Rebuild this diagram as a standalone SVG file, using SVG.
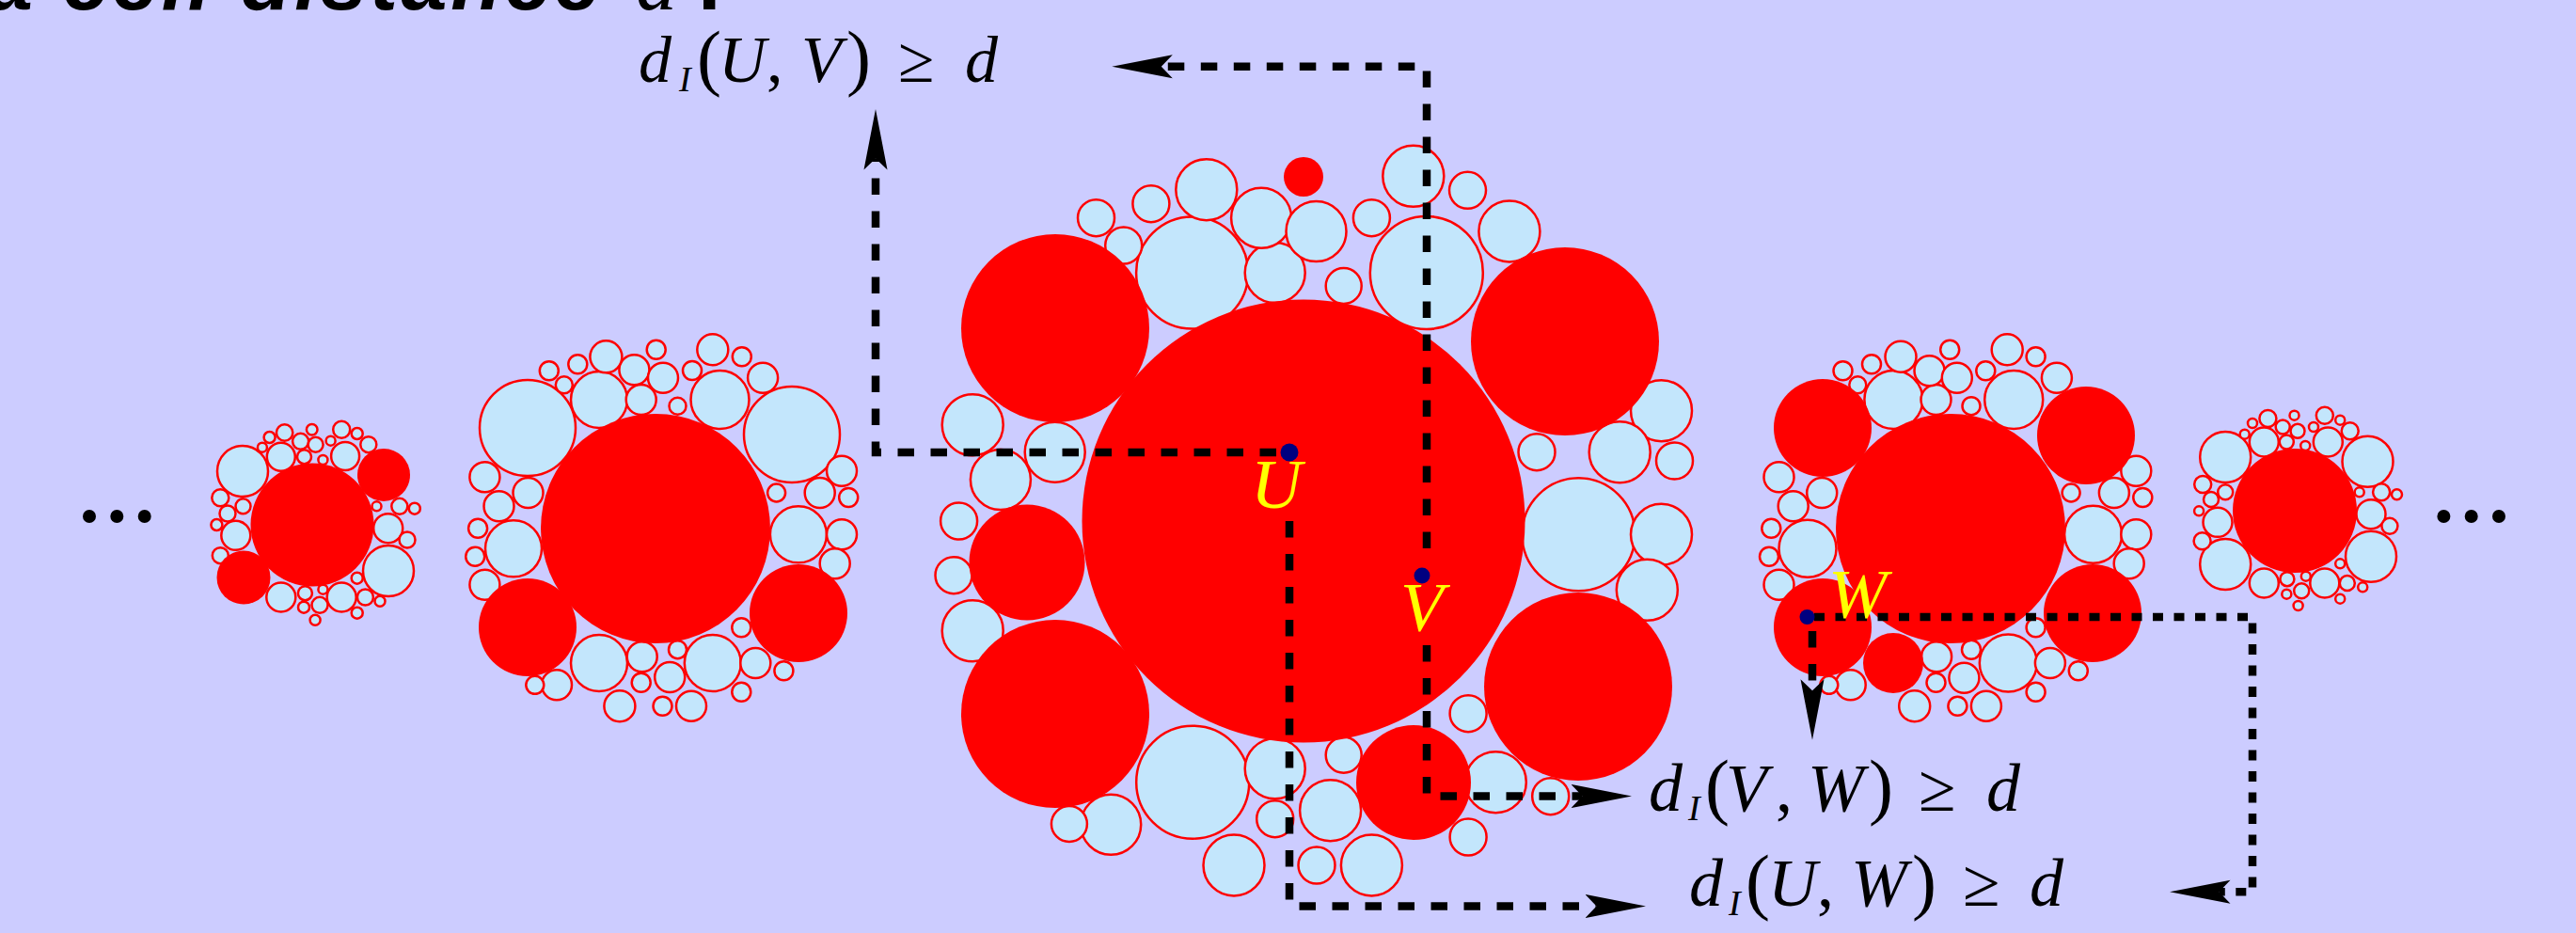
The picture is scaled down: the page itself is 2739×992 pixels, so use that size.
<svg xmlns="http://www.w3.org/2000/svg" width="2739" height="992" viewBox="0 0 2739 992">
<style>
.b{fill:#c3e6fc;stroke:#ff0000;stroke-width:2.5}
.r{fill:#ff0000}
.ln{fill:none;stroke:#000;stroke-width:8.5}
.d1{stroke-dasharray:17.5 17.5}
.d2{stroke-dasharray:11 11.5}
.pt{fill:#000080}
.lab{font-family:"Liberation Serif",serif;font-style:italic;fill:#ffff00;font-size:75px}
.m{font-family:"Liberation Serif",serif;fill:#000}
.it{font-style:italic}
.p{font-size:78px}
.s{font-size:38px;font-style:italic}
</style>
<defs>
<marker id="ah" markerUnits="userSpaceOnUse" markerWidth="66" markerHeight="26" viewBox="0 0 66 26" refX="12" refY="13" orient="auto"><path d="M0,0.5 L64.5,13 L0,25.5 L12,13 Z" fill="#000"/></marker>
</defs>
<rect x="0" y="0" width="2739" height="992" fill="#ccccff"/>
<g id="title">
<text x="-14" y="10" font-family="Liberation Sans,sans-serif" font-weight="bold" font-style="italic" font-size="88" textLength="652" lengthAdjust="spacing">a cell distance</text>
<text x="676" y="10" font-family="Liberation Serif,serif" font-style="italic" font-size="88">d</text>
<text x="742" y="10" font-family="Liberation Sans,sans-serif" font-weight="bold" font-size="88">.</text>
</g>
<g id="dots-left"><circle cx="95" cy="549" r="7"/><circle cx="124.3" cy="549" r="7"/><circle cx="153.7" cy="549" r="7"/></g>
<g id="dots-right"><circle cx="2598.4" cy="549" r="7"/><circle cx="2627.7" cy="549" r="7"/><circle cx="2657" cy="549" r="7"/></g>
<g id="cluster-A">
<circle class="b" cx="258" cy="501" r="27"/><circle class="b" cx="413" cy="607" r="27"/>
<circle class="b" cx="302.6" cy="460" r="8.7"/><circle class="b" cx="286.6" cy="465" r="6"/><circle class="b" cx="319.6" cy="469.3" r="8.5"/><circle class="b" cx="331.7" cy="456.7" r="5.8"/><circle class="b" cx="335.6" cy="472.7" r="8"/><circle class="b" cx="351.6" cy="468.7" r="5"/><circle class="b" cx="363.2" cy="456.7" r="9"/><circle class="b" cx="379.7" cy="461" r="6"/><circle class="b" cx="391.8" cy="472.7" r="8.5"/><circle class="b" cx="367.1" cy="485" r="15"/><circle class="b" cx="298.8" cy="485.7" r="15"/><circle class="b" cx="323.5" cy="485.7" r="7.5"/><circle class="b" cx="343.4" cy="489" r="5"/><circle class="b" cx="278.9" cy="475.7" r="5"/>
<circle class="b" cx="234.3" cy="529.3" r="9"/><circle class="b" cx="258.5" cy="538.3" r="8"/><circle class="b" cx="242" cy="546" r="8.5"/><circle class="b" cx="230.4" cy="558" r="6"/><circle class="b" cx="250.8" cy="569.3" r="15.5"/><circle class="b" cx="234.3" cy="590.7" r="8.5"/>
<circle class="b" cx="400.5" cy="538.3" r="5"/><circle class="b" cx="424.8" cy="538.3" r="8.5"/><circle class="b" cx="440.8" cy="540.7" r="6"/><circle class="b" cx="412.7" cy="561.7" r="15.5"/><circle class="b" cx="433" cy="574" r="8.5"/><circle class="b" cx="379.7" cy="614.7" r="6"/>
<circle class="b" cx="298.8" cy="635" r="15.5"/><circle class="b" cx="324.4" cy="630.7" r="7.5"/><circle class="b" cx="343.4" cy="626.7" r="5"/><circle class="b" cx="363.2" cy="635" r="15.5"/><circle class="b" cx="388.4" cy="635" r="8.5"/><circle class="b" cx="404" cy="639.3" r="5.5"/><circle class="b" cx="323" cy="645.7" r="6"/><circle class="b" cx="340" cy="643.3" r="8.5"/><circle class="b" cx="379.7" cy="651.7" r="6"/><circle class="b" cx="335.1" cy="659.3" r="5.5"/>
<circle class="r" cx="408" cy="505" r="28"/><circle class="r" cx="259" cy="614" r="28.5"/><circle class="r" cx="332" cy="558" r="65.5"/>
</g>
<g id="cluster-B">
<circle class="b" cx="561" cy="455" r="51"/><circle class="b" cx="842" cy="462" r="51"/><circle class="b" cx="637" cy="425" r="30"/><circle class="b" cx="765.5" cy="425" r="31"/><circle class="b" cx="681.7" cy="425" r="16"/><circle class="b" cx="674.4" cy="393.3" r="16"/><circle class="b" cx="705" cy="401.7" r="16"/><circle class="b" cx="644.4" cy="379.3" r="17"/><circle class="b" cx="614.3" cy="387.3" r="10"/><circle class="b" cx="583.8" cy="394.3" r="10"/><circle class="b" cx="599.8" cy="409.3" r="9"/><circle class="b" cx="697.7" cy="371.7" r="10"/><circle class="b" cx="757.8" cy="371.7" r="16.5"/><circle class="b" cx="788.8" cy="379.3" r="10"/><circle class="b" cx="811.1" cy="401.7" r="16"/><circle class="b" cx="736" cy="394" r="10"/><circle class="b" cx="720.5" cy="431.7" r="9"/>
<circle class="b" cx="515.4" cy="507.3" r="16"/><circle class="b" cx="561.5" cy="524" r="16"/><circle class="b" cx="530.5" cy="538.3" r="16"/><circle class="b" cx="508.1" cy="561.7" r="10"/><circle class="b" cx="546" cy="583.3" r="30"/><circle class="b" cx="505.2" cy="591.7" r="10"/><circle class="b" cx="515.4" cy="621.7" r="16"/>
<circle class="b" cx="895" cy="500.7" r="16"/><circle class="b" cx="825.6" cy="524" r="9.5"/><circle class="b" cx="871.7" cy="524" r="16"/><circle class="b" cx="902.2" cy="529" r="10"/><circle class="b" cx="848.9" cy="568.3" r="30"/><circle class="b" cx="895" cy="568.3" r="16"/><circle class="b" cx="887.7" cy="599.3" r="16"/>
<circle class="b" cx="637" cy="705" r="30"/><circle class="b" cx="682.7" cy="698.3" r="16"/><circle class="b" cx="720.5" cy="690.7" r="9.5"/><circle class="b" cx="757.8" cy="705" r="30"/><circle class="b" cx="803.3" cy="705" r="16"/><circle class="b" cx="788.3" cy="667.3" r="10"/><circle class="b" cx="833.4" cy="713.3" r="10"/><circle class="b" cx="592" cy="728.3" r="16"/><circle class="b" cx="568.8" cy="728.3" r="9.5"/><circle class="b" cx="681.7" cy="725.7" r="10"/><circle class="b" cx="712.2" cy="720" r="16"/><circle class="b" cx="788.3" cy="735.7" r="10"/><circle class="b" cx="658.9" cy="750.7" r="16.5"/><circle class="b" cx="704.5" cy="750.7" r="10"/><circle class="b" cx="735" cy="750.7" r="16"/>
<circle class="r" cx="561" cy="667" r="52"/><circle class="r" cx="849" cy="652" r="52"/><circle class="r" cx="697" cy="562" r="122"/>
</g>
<g id="cluster-C">
<circle class="b" cx="1267.6" cy="290" r="59.5"/><circle class="b" cx="1355.7" cy="290" r="32"/><circle class="b" cx="1341.1" cy="231.7" r="32"/><circle class="b" cx="1282.8" cy="201.7" r="32.5"/><circle class="b" cx="1399.5" cy="246" r="32"/><circle class="b" cx="1223.9" cy="216.7" r="19.5"/><circle class="b" cx="1165.5" cy="231.7" r="19.5"/><circle class="b" cx="1194.7" cy="261" r="19.5"/><circle class="b" cx="1458.4" cy="231.7" r="19.5"/><circle class="b" cx="1428.7" cy="304" r="19"/><circle class="b" cx="1502.8" cy="187.3" r="32.5"/><circle class="b" cx="1560.5" cy="202.3" r="19.5"/><circle class="b" cx="1516.8" cy="290" r="60"/><circle class="b" cx="1604.9" cy="246" r="32.5"/>
<circle class="b" cx="1034.2" cy="451.7" r="32.5"/><circle class="b" cx="1121.7" cy="480.7" r="32"/><circle class="b" cx="1063.9" cy="510" r="32"/><circle class="b" cx="1019.6" cy="554" r="19.5"/><circle class="b" cx="1014" cy="611.7" r="19.5"/><circle class="b" cx="1034.2" cy="670.7" r="32.5"/>
<circle class="b" cx="1766.5" cy="436.7" r="32.5"/><circle class="b" cx="1722.2" cy="480.7" r="32.5"/><circle class="b" cx="1634" cy="480.7" r="19.5"/><circle class="b" cx="1780.5" cy="490" r="19.5"/><circle class="b" cx="1678.4" cy="568.3" r="60"/><circle class="b" cx="1766.5" cy="568.3" r="32.5"/><circle class="b" cx="1751.3" cy="627.3" r="32.5"/>
<circle class="b" cx="1268.2" cy="831.7" r="60"/><circle class="b" cx="1355.7" cy="817.3" r="32"/><circle class="b" cx="1428.7" cy="802.7" r="19"/><circle class="b" cx="1414.6" cy="861.7" r="32.5"/><circle class="b" cx="1355.7" cy="870.7" r="19.5"/><circle class="b" cx="1312" cy="920" r="32.5"/><circle class="b" cx="1400" cy="920" r="19.5"/><circle class="b" cx="1458.4" cy="920" r="32.5"/><circle class="b" cx="1181.2" cy="876.7" r="32"/><circle class="b" cx="1136.9" cy="876" r="19"/><circle class="b" cx="1561.1" cy="758.7" r="19.5"/><circle class="b" cx="1590.3" cy="831.7" r="32.5"/><circle class="b" cx="1648.7" cy="846.7" r="19.5"/><circle class="b" cx="1561.1" cy="890" r="19.5"/>
<circle class="r" cx="1122" cy="349" r="100"/><circle class="r" cx="1664" cy="363" r="100"/><circle class="r" cx="1122" cy="759" r="100"/><circle class="r" cx="1678" cy="730" r="100"/><circle class="r" cx="1503" cy="832" r="61"/><circle class="r" cx="1092" cy="598" r="61.5"/><circle class="r" cx="1386" cy="188" r="21"/><circle class="r" cx="1386" cy="554" r="235.5"/>
</g>
<g id="cluster-D">
<circle class="b" cx="2013.4" cy="425" r="31"/><circle class="b" cx="2141.2" cy="425" r="31"/><circle class="b" cx="2058.5" cy="425" r="16"/><circle class="b" cx="2051.5" cy="394.3" r="16"/><circle class="b" cx="2080.8" cy="401.7" r="16"/><circle class="b" cx="2021" cy="379.3" r="16.5"/><circle class="b" cx="1990" cy="387.3" r="10"/><circle class="b" cx="1959.5" cy="394.3" r="10"/><circle class="b" cx="1975.3" cy="409.3" r="9"/><circle class="b" cx="2073.2" cy="371.7" r="10"/><circle class="b" cx="2134.2" cy="371.7" r="16.5"/><circle class="b" cx="2164.6" cy="379.3" r="10"/><circle class="b" cx="2186.9" cy="401.7" r="16"/><circle class="b" cx="2111.3" cy="394.3" r="10"/><circle class="b" cx="2096" cy="431.7" r="9.5"/>
<circle class="b" cx="1891.5" cy="507.3" r="16"/><circle class="b" cx="1937.2" cy="524" r="16"/><circle class="b" cx="1906.7" cy="538.3" r="16"/><circle class="b" cx="1883.3" cy="561.7" r="10"/><circle class="b" cx="1922" cy="583.3" r="30.5"/><circle class="b" cx="1881" cy="591.7" r="10"/><circle class="b" cx="1891.5" cy="621.7" r="16"/>
<circle class="b" cx="2271.3" cy="500.7" r="16"/><circle class="b" cx="2202.1" cy="524" r="9.5"/><circle class="b" cx="2247.9" cy="524" r="16"/><circle class="b" cx="2278.3" cy="529" r="10"/><circle class="b" cx="2225.6" cy="568.3" r="30.5"/><circle class="b" cx="2271.3" cy="568.3" r="16"/><circle class="b" cx="2263.7" cy="599.3" r="16"/>
<circle class="b" cx="2135.3" cy="705" r="30.5"/><circle class="b" cx="2059.1" cy="698.3" r="16"/><circle class="b" cx="2096" cy="690.7" r="10"/><circle class="b" cx="2088.4" cy="720.7" r="16"/><circle class="b" cx="2058.5" cy="725.7" r="10"/><circle class="b" cx="2179.9" cy="705" r="16"/><circle class="b" cx="2164.6" cy="667.3" r="10"/><circle class="b" cx="2209.8" cy="713.3" r="10"/><circle class="b" cx="1967.7" cy="728.3" r="16"/><circle class="b" cx="1944.8" cy="728.3" r="9.5"/><circle class="b" cx="2164.6" cy="735.7" r="10"/><circle class="b" cx="2035.7" cy="750.7" r="16.5"/><circle class="b" cx="2081.4" cy="750.7" r="10"/><circle class="b" cx="2111.9" cy="750.7" r="16"/>
<circle class="r" cx="1938" cy="455" r="52"/><circle class="r" cx="2218" cy="463" r="52"/><circle class="r" cx="2225" cy="652" r="52"/><circle class="r" cx="1938" cy="667" r="52"/><circle class="r" cx="2013" cy="705" r="32"/><circle class="r" cx="2074" cy="562" r="122"/>
</g>
<g id="cluster-E">
<circle class="b" cx="2366.2" cy="486" r="27"/><circle class="b" cx="2517.5" cy="490.7" r="27"/><circle class="b" cx="2366.2" cy="600" r="27"/><circle class="b" cx="2521" cy="591.7" r="27"/><circle class="b" cx="2407.3" cy="470" r="15.5"/><circle class="b" cx="2475.3" cy="470" r="15.5"/><circle class="b" cx="2407.3" cy="620" r="15.5"/><circle class="b" cx="2471.8" cy="620" r="15.5"/><circle class="b" cx="2521" cy="546.7" r="15.5"/><circle class="b" cx="2358" cy="555.3" r="15.5"/>
<circle class="b" cx="2411.4" cy="445" r="9"/><circle class="b" cx="2427.2" cy="454" r="7.5"/><circle class="b" cx="2443" cy="458.3" r="7.5"/><circle class="b" cx="2431.3" cy="470" r="7.5"/><circle class="b" cx="2471.8" cy="441.7" r="9"/><circle class="b" cx="2498.7" cy="458.3" r="9"/><circle class="b" cx="2439.5" cy="441.7" r="5"/><circle class="b" cx="2460" cy="454" r="5"/><circle class="b" cx="2488.2" cy="446.7" r="5"/><circle class="b" cx="2395" cy="450" r="5"/><circle class="b" cx="2386.7" cy="461.7" r="5"/><circle class="b" cx="2451.2" cy="474" r="5"/>
<circle class="b" cx="2342.2" cy="515" r="9"/><circle class="b" cx="2366.2" cy="523.3" r="8"/><circle class="b" cx="2351" cy="531" r="8"/><circle class="b" cx="2338.1" cy="543.3" r="5"/><circle class="b" cx="2341.6" cy="575.3" r="9"/><circle class="b" cx="2508.7" cy="523.3" r="5"/><circle class="b" cx="2532.1" cy="523.3" r="9"/><circle class="b" cx="2548.5" cy="525.7" r="5.5"/><circle class="b" cx="2540.9" cy="559.3" r="8.5"/>
<circle class="b" cx="2488.2" cy="599.3" r="5"/><circle class="b" cx="2431.9" cy="615.7" r="7.5"/><circle class="b" cx="2447.2" cy="628.3" r="8"/><circle class="b" cx="2431.3" cy="631.7" r="5"/><circle class="b" cx="2451.8" cy="612.7" r="5"/><circle class="b" cx="2495.8" cy="620" r="8"/><circle class="b" cx="2512.2" cy="624.3" r="5"/><circle class="b" cx="2488.2" cy="636.7" r="5"/><circle class="b" cx="2443.6" cy="644" r="5"/>
<circle class="r" cx="2440" cy="543" r="66"/>
</g>
<g id="connectors">
<path class="ln d1" d="M1357,481 H931 V168.5" marker-end="url(#ah)"/>
<path class="ln d1" d="M1517,583 V70.7 H1234.8" marker-end="url(#ah)"/>
<path class="ln d1" d="M1517,686 V846.5 H1682.5" marker-end="url(#ah)"/>
<path class="ln d1" d="M1371,554 V963.5 H1697.5" marker-end="url(#ah)"/>
<path class="ln d2" d="M1929,656 H2395 V948.3 H2359.5" marker-end="url(#ah)"/>
<path class="ln d1" d="M1927,671 V734.2" marker-end="url(#ah)"/>
</g>
<g id="point-U"><circle class="pt" cx="1371" cy="481" r="9.5"/><text class="lab" x="1330" y="540">U</text></g>
<g id="point-V"><circle class="pt" cx="1512" cy="612" r="8.5"/><text class="lab" x="1489" y="671">V</text></g>
<g id="point-W"><circle class="pt" cx="1921.5" cy="656" r="8"/><text class="lab" x="1944" y="657">W</text></g>
<g id="label-UV">
<text class="m" y="87" font-size="70"><tspan class="it" x="679">d</tspan><tspan class="s" x="722" dy="10">I</tspan><tspan class="p" x="741" dy="-10">(</tspan><tspan class="it" x="764">U</tspan><tspan x="815">,</tspan><tspan class="it" x="852">V</tspan><tspan class="p" x="900">)</tspan><tspan x="955">≥</tspan><tspan class="it" x="1026">d</tspan></text>
</g>
<g id="label-VW">
<text class="m" y="862" font-size="72"><tspan class="it" x="1753">d</tspan><tspan class="s" x="1795" dy="10">I</tspan><tspan class="p" x="1813" dy="-10">(</tspan><tspan class="it" x="1835">V</tspan><tspan x="1888">,</tspan><tspan class="it" x="1922">W</tspan><tspan class="p" x="1987">)</tspan><tspan x="2040">≥</tspan><tspan class="it" x="2112">d</tspan></text>
</g>
<g id="label-UW">
<text class="m" y="963" font-size="72"><tspan class="it" x="1796">d</tspan><tspan class="s" x="1838" dy="10">I</tspan><tspan class="p" x="1856" dy="-10">(</tspan><tspan class="it" x="1880">U</tspan><tspan x="1932">,</tspan><tspan class="it" x="1968">W</tspan><tspan class="p" x="2033">)</tspan><tspan x="2087">≥</tspan><tspan class="it" x="2158">d</tspan></text>
</g>
</svg>
